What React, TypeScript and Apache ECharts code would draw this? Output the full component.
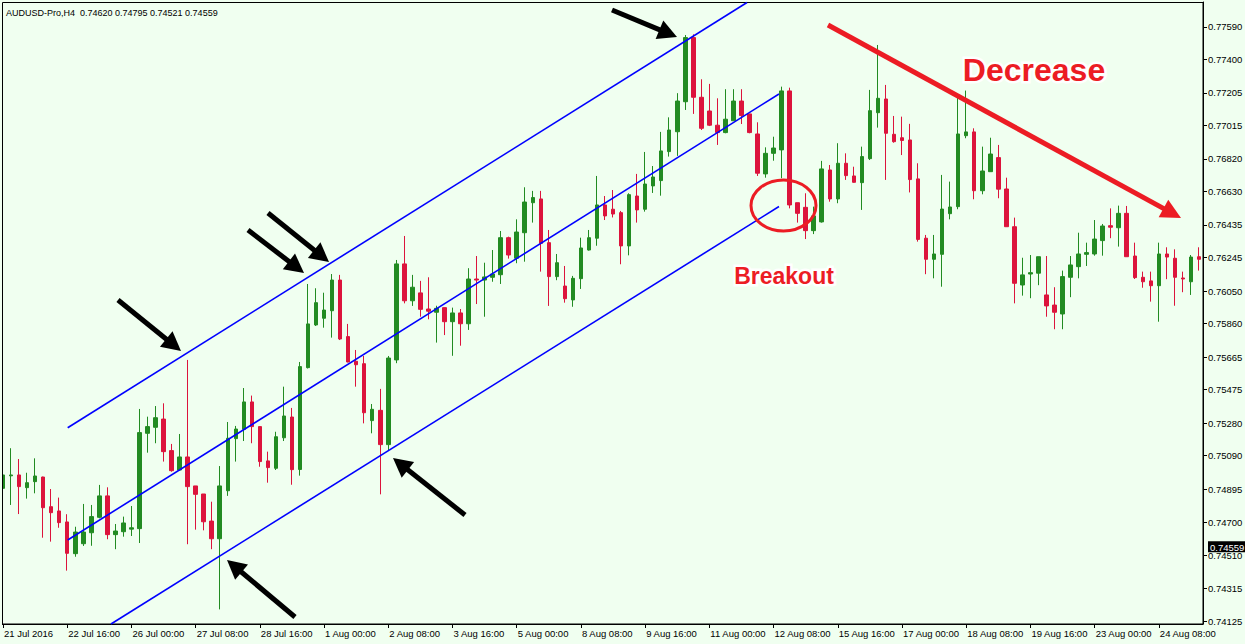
import React, { useEffect, useRef } from "react";
import * as echarts from "echarts";

// ---- Data (AUDUSD H4) ----
const tickLabels = [
  "21 Jul 2016", "22 Jul 16:00", "26 Jul 00:00", "27 Jul 08:00", "28 Jul 16:00",
  "1 Aug 00:00", "2 Aug 08:00", "3 Aug 16:00", "5 Aug 00:00", "8 Aug 08:00",
  "9 Aug 16:00", "11 Aug 00:00", "12 Aug 08:00", "15 Aug 16:00", "17 Aug 00:00",
  "18 Aug 08:00", "19 Aug 16:00", "23 Aug 00:00", "24 Aug 08:00",
];

const priceTicks = [
  0.7759, 0.774, 0.77205, 0.77015, 0.7682, 0.7663, 0.76435, 0.76245, 0.7605, 0.7586,
  0.75665, 0.75475, 0.7528, 0.7509, 0.74895, 0.747, 0.7451, 0.74315, 0.74125,
];

const lastPrice = 0.74559;
const headerText = "AUDUSD-Pro,H4  0.74620 0.74795 0.74521 0.74559";

const opens = [
  0.74899, 0.74972, 0.74977, 0.74903, 0.74938, 0.74965, 0.74792, 0.74767, 0.74703, 0.74518,
  0.74576, 0.7464, 0.7473, 0.74855, 0.74629, 0.74646, 0.74661, 0.74664, 0.7522, 0.75255,
  0.75303, 0.75119, 0.75006, 0.75082, 0.74913, 0.74866, 0.74708, 0.74605, 0.74885, 0.75189,
  0.75243, 0.75403, 0.75259, 0.75059, 0.75016, 0.75194, 0.75315, 0.75009, 0.75603, 0.75852,
  0.75891, 0.75935, 0.76114, 0.75784, 0.7564, 0.75626, 0.75294, 0.75354, 0.75154, 0.75648,
  0.76208, 0.75993, 0.76039, 0.75945, 0.75926, 0.75953, 0.75871, 0.75922, 0.75859, 0.7612,
  0.76114, 0.7613, 0.76145, 0.76361, 0.76241, 0.7639, 0.76565, 0.76587, 0.76332, 0.76134,
  0.76079, 0.75998, 0.76122, 0.76289, 0.76358, 0.76552, 0.76527, 0.76507, 0.76313, 0.76604,
  0.76527, 0.76663, 0.76694, 0.76863, 0.76979, 0.77154, 0.77528, 0.7718, 0.771, 0.77017,
  0.76974, 0.77043, 0.77158, 0.77083, 0.76966, 0.76733, 0.76853, 0.76873, 0.77217, 0.76565,
  0.76538, 0.76402, 0.76453, 0.76756, 0.76587, 0.76795, 0.76721, 0.76682, 0.76822, 0.7709,
  0.7717, 0.76964, 0.76944, 0.76931, 0.76704, 0.76358, 0.76235, 0.76264, 0.76501, 0.76542,
  0.76956, 0.76978, 0.76635, 0.76746, 0.76828, 0.76645, 0.76425, 0.76085, 0.76149, 0.76154,
  0.76027, 0.75968, 0.75916, 0.7613, 0.76192, 0.76264, 0.76266, 0.76344, 0.76431, 0.76419,
  0.76503, 0.76254, 0.7613, 0.76109, 0.76081, 0.76266, 0.76241, 0.76126, 0.76104, 0.7625,
];

const closes = [
  0.74977, 0.74977, 0.74909, 0.74932, 0.74971, 0.74786, 0.74757, 0.74699, 0.7452, 0.74644,
  0.74644, 0.74734, 0.74855, 0.74629, 0.7465, 0.74697, 0.74669, 0.75224, 0.75259, 0.75311,
  0.75113, 0.75002, 0.75082, 0.74909, 0.74864, 0.74704, 0.74605, 0.74913, 0.75191, 0.75245,
  0.75403, 0.75259, 0.75055, 0.7502, 0.752, 0.75321, 0.75008, 0.75609, 0.75858, 0.75982,
  0.75939, 0.76114, 0.7577, 0.75636, 0.7562, 0.7534, 0.7536, 0.75154, 0.75659, 0.76208,
  0.75993, 0.76072, 0.75943, 0.75932, 0.75949, 0.75871, 0.75922, 0.75859, 0.7612, 0.76114,
  0.76132, 0.76149, 0.76361, 0.7626, 0.76394, 0.76569, 0.76595, 0.76328, 0.76134, 0.76215,
  0.76005, 0.76124, 0.76301, 0.76361, 0.76552, 0.76488, 0.76499, 0.76313, 0.76612, 0.76523,
  0.76674, 0.76715, 0.76867, 0.76989, 0.77158, 0.77528, 0.7718, 0.76999, 0.77017, 0.76974,
  0.77052, 0.77158, 0.77073, 0.76974, 0.76737, 0.76853, 0.76884, 0.77217, 0.76552, 0.76503,
  0.76402, 0.76488, 0.76762, 0.76587, 0.76795, 0.76723, 0.76684, 0.76834, 0.77102, 0.77174,
  0.7697, 0.76921, 0.76928, 0.767, 0.76351, 0.76235, 0.76266, 0.76528, 0.7654, 0.76966,
  0.76978, 0.76635, 0.7675, 0.76849, 0.76644, 0.76425, 0.76095, 0.76144, 0.76157, 0.7625,
  0.75963, 0.75926, 0.76134, 0.76202, 0.76266, 0.76274, 0.76353, 0.76429, 0.76422, 0.76503,
  0.7625, 0.76128, 0.76104, 0.76081, 0.76266, 0.76248, 0.7613, 0.7612, 0.76248, 0.76235,
];

const lows = [
  0.74815, 0.74802, 0.74749, 0.74839, 0.7487, 0.74611, 0.74588, 0.74669, 0.74419, 0.745,
  0.74563, 0.74564, 0.74724, 0.74602, 0.74544, 0.74617, 0.74621, 0.7458, 0.75107, 0.75162,
  0.75055, 0.74996, 0.75002, 0.74573, 0.74658, 0.74654, 0.74544, 0.74193, 0.74855, 0.75055,
  0.75175, 0.75162, 0.75025, 0.74932, 0.75006, 0.75175, 0.7492, 0.74973, 0.75598, 0.75846,
  0.75836, 0.75778, 0.75764, 0.75634, 0.75492, 0.75278, 0.7522, 0.74864, 0.75119, 0.75629,
  0.75978, 0.75963, 0.759, 0.75885, 0.75749, 0.75793, 0.75672, 0.75731, 0.75823, 0.75974,
  0.759, 0.76104, 0.76091, 0.76239, 0.76212, 0.76221, 0.76449, 0.76163, 0.75963, 0.76113,
  0.75982, 0.75958, 0.76062, 0.76286, 0.76314, 0.76464, 0.76479, 0.76206, 0.76258, 0.76449,
  0.76513, 0.76622, 0.76606, 0.76834, 0.76838, 0.77106, 0.77083, 0.76989, 0.77012, 0.76902,
  0.7697, 0.77043, 0.77024, 0.7697, 0.76721, 0.76711, 0.7681, 0.76708, 0.76532, 0.76449,
  0.76353, 0.76382, 0.76449, 0.76571, 0.76562, 0.76698, 0.76682, 0.76523, 0.76814, 0.77003,
  0.76698, 0.76915, 0.76843, 0.76625, 0.76338, 0.76148, 0.76124, 0.76075, 0.76468, 0.76527,
  0.76941, 0.76585, 0.76614, 0.76746, 0.76591, 0.76425, 0.75978, 0.76023, 0.76008, 0.76084,
  0.759, 0.75827, 0.75827, 0.76014, 0.76124, 0.76196, 0.76256, 0.76256, 0.76358, 0.76309,
  0.7625, 0.7612, 0.76069, 0.75988, 0.75871, 0.76119, 0.75964, 0.76043, 0.76027, 0.76169,
];

const highs = [
  0.75074, 0.75133, 0.7507, 0.7499, 0.75074, 0.74967, 0.74895, 0.74845, 0.74748, 0.74675,
  0.74808, 0.74802, 0.74919, 0.74905, 0.74691, 0.74734, 0.74796, 0.75362, 0.75317, 0.75379,
  0.75395, 0.75158, 0.75216, 0.75648, 0.74913, 0.74866, 0.74821, 0.75029, 0.75286, 0.75263,
  0.75484, 0.7544, 0.75259, 0.75113, 0.75229, 0.75492, 0.75368, 0.75636, 0.76091, 0.76066,
  0.7604, 0.76149, 0.76144, 0.75858, 0.75706, 0.75671, 0.75391, 0.75479, 0.75671, 0.76231,
  0.76371, 0.76144, 0.76109, 0.7613, 0.75964, 0.75953, 0.75953, 0.75945, 0.76183, 0.76254,
  0.76215, 0.76289, 0.764, 0.76367, 0.76468, 0.76655, 0.76634, 0.76634, 0.76406, 0.76266,
  0.76196, 0.76138, 0.76361, 0.76406, 0.76721, 0.76604, 0.76639, 0.76517, 0.7662, 0.76733,
  0.76861, 0.76779, 0.76978, 0.77063, 0.77204, 0.77543, 0.77547, 0.77285, 0.77258, 0.77174,
  0.77227, 0.77227, 0.77227, 0.77083, 0.77034, 0.76888, 0.7695, 0.77242, 0.77236, 0.76565,
  0.7662, 0.76542, 0.76809, 0.76785, 0.76912, 0.76853, 0.76775, 0.76892, 0.77223, 0.77485,
  0.77252, 0.77071, 0.77067, 0.77025, 0.76795, 0.76377, 0.76377, 0.76727, 0.76688, 0.77187,
  0.77219, 0.76999, 0.76892, 0.76944, 0.76902, 0.76711, 0.76478, 0.76244, 0.7626, 0.7625,
  0.76254, 0.76072, 0.76169, 0.76254, 0.7639, 0.76332, 0.76464, 0.76441, 0.76532, 0.76548,
  0.76546, 0.76332, 0.76163, 0.76163, 0.76332, 0.76305, 0.76293, 0.76163, 0.7626, 0.76305,
];

// ---- Styling constants ----
const BG = "#F0FFF0";
const UP = "#228B22";
const DOWN = "#DC143C";
const ANNO_RED = "#EC1C24";
const CHANNEL = "#0000FF";
const AXIS_FONT = '"Liberation Sans", Arial, sans-serif';

type Pt = [number, number];

function arrow(from: Pt, tip: Pt, color: string, width = 5, headLen = 19, headHalf = 10): any[] {
  const dx = tip[0] - from[0];
  const dy = tip[1] - from[1];
  const len = Math.hypot(dx, dy);
  const ux = dx / len;
  const uy = dy / len;
  const bx = tip[0] - ux * headLen;
  const by = tip[1] - uy * headLen;
  return [
    {
      type: "line",
      z: 100,
      shape: { x1: from[0], y1: from[1], x2: bx + ux * 3, y2: by + uy * 3 },
      style: { stroke: color, lineWidth: width },
    },
    {
      type: "polygon",
      z: 101,
      shape: {
        points: [
          [tip[0], tip[1]],
          [bx - uy * headHalf, by + ux * headHalf],
          [bx + uy * headHalf, by - ux * headHalf],
        ],
      },
      style: { fill: color },
    },
  ];
}

function haloText(text: string, x: number, y: number, font: string): any[] {
  return [
    {
      type: "text",
      z: 102,
      x,
      y,
      style: {
        text,
        font,
        fill: "#ffffff",
        stroke: "rgba(255,255,255,0.95)",
        lineWidth: 5,
        align: "center",
        verticalAlign: "middle",
        shadowBlur: 3,
        shadowColor: "rgba(0,0,0,0.25)",
      },
    },
    {
      type: "text",
      z: 103,
      x,
      y,
      style: { text, font, fill: ANNO_RED, align: "center", verticalAlign: "middle" },
    },
  ];
}

export default function App() {
  const ref = useRef<HTMLDivElement>(null);

  useEffect(() => {
    if (!ref.current) return;
    const chart = echarts.init(ref.current, undefined, { renderer: "svg" });

    const cats = opens.map((_, i) => String(i));
    const candles = opens.map((o, i) => [o, closes[i], lows[i], highs[i]]);

    const channelLines: any[] = [
      { a: [67.7, 427.7], b: [747, 2.5] },
      { a: [67.7, 540], b: [779, 94] },
      { a: [111, 624], b: [779, 206.5] },
    ].map((l) => ({
      type: "line",
      z: 90,
      shape: { x1: l.a[0], y1: l.a[1], x2: l.b[0], y2: l.b[1] },
      style: { stroke: CHANNEL, lineWidth: 1.6 },
    }));

    const arrows: any[] = [
      ...arrow([118, 300], [181, 351], "#000"),
      ...arrow([248, 230], [304, 273], "#000"),
      ...arrow([268, 213], [329, 262], "#000"),
      ...arrow([612, 10], [677, 37], "#000"),
      ...arrow([465, 515], [393, 458], "#000"),
      ...arrow([295, 617], [227, 560], "#000"),
      ...arrow([828, 25], [1181, 218], ANNO_RED, 5, 20, 10),
    ];

    const option: any = {
      animation: false,
      backgroundColor: BG,
      grid: {
        left: -1,
        right: 42,
        top: 2,
        bottom: 20,
        containLabel: false,
        outerBoundsMode: "none",
      },
      xAxis: {
        type: "category",
        data: cats,
        boundaryGap: true,
        axisLine: { show: true, lineStyle: { color: "#000", width: 1 } },
        axisTick: {
          show: true,
          alignWithLabel: true,
          interval: 7,
          length: 4,
          lineStyle: { color: "#000" },
        },
        axisLabel: {
          show: true,
          interval: 7,
          align: "left",
          margin: 4,
          padding: [0, 0, 0, 1],
          color: "#000",
          fontSize: 9.5,
          fontFamily: AXIS_FONT,
          formatter: (_v: string, idx: number) => tickLabels[idx / 8] ?? "",
        },
        splitLine: { show: false },
      },
      yAxis: {
        type: "value",
        position: "right",
        min: 0.741077,
        max: 0.777357,
        scale: true,
        splitLine: { show: false },
        axisLine: { show: true, lineStyle: { color: "#000", width: 1 } },
        axisTick: {
          show: true,
          length: 4,
          customValues: priceTicks,
          lineStyle: { color: "#000" },
        },
        axisLabel: {
          show: true,
          margin: 5,
          customValues: [...priceTicks, lastPrice],
          color: "#000",
          fontSize: 9.5,
          fontFamily: AXIS_FONT,
          formatter: (v: number) =>
            v === lastPrice ? `{cur|${v.toFixed(5)}}` : v.toFixed(5),
          rich: {
            cur: {
              backgroundColor: "#000",
              color: "#fff",
              fontSize: 9.5,
              fontFamily: AXIS_FONT,
              padding: [1, 3, 0, 2],
            },
          },
        },
      },
      series: [
        {
          type: "candlestick",
          data: candles,
          barWidth: 4,
          clip: true,
          silent: true,
          itemStyle: {
            color: UP,
            color0: DOWN,
            borderColor: UP,
            borderColor0: DOWN,
            borderWidth: 1,
          },
          emphasis: { disabled: true },
        },
      ],
      graphic: [
        // cover left of frame
        {
          type: "rect",
          z: 80,
          shape: { x: 0, y: 0, width: 2, height: 630 },
          style: { fill: BG },
        },
        // frame
        {
          type: "rect",
          z: 81,
          shape: { x: 2.5, y: 2.5, width: 1200.5, height: 621.5 },
          style: { fill: "none", stroke: "#000", lineWidth: 1 },
        },
        {
          type: "text",
          z: 110,
          x: 6,
          y: 13,
          style: {
            text: headerText,
            fill: "#000",
            font: `9px ${AXIS_FONT}`,
            align: "left",
            verticalAlign: "middle",
          },
        },
        ...channelLines,
        ...arrows,
        {
          type: "ellipse",
          z: 100,
          shape: { cx: 783.5, cy: 205.5, rx: 32.5, ry: 25.5 },
          style: { fill: "none", stroke: ANNO_RED, lineWidth: 3 },
        },
        ...haloText("Breakout", 784, 276, `bold 23px ${AXIS_FONT}`),
        ...haloText("Decrease", 1034, 70, `bold 32px ${AXIS_FONT}`),
      ],
    };

    chart.setOption(option);
    return () => chart.dispose();
  }, []);

  return (
    <div
      style={{
        position: "fixed",
        left: 0,
        top: 0,
        width: 1245,
        height: 644,
        background: BG,
      }}
    >
      <div ref={ref} style={{ width: 1245, height: 644 }} />
    </div>
  );
}
